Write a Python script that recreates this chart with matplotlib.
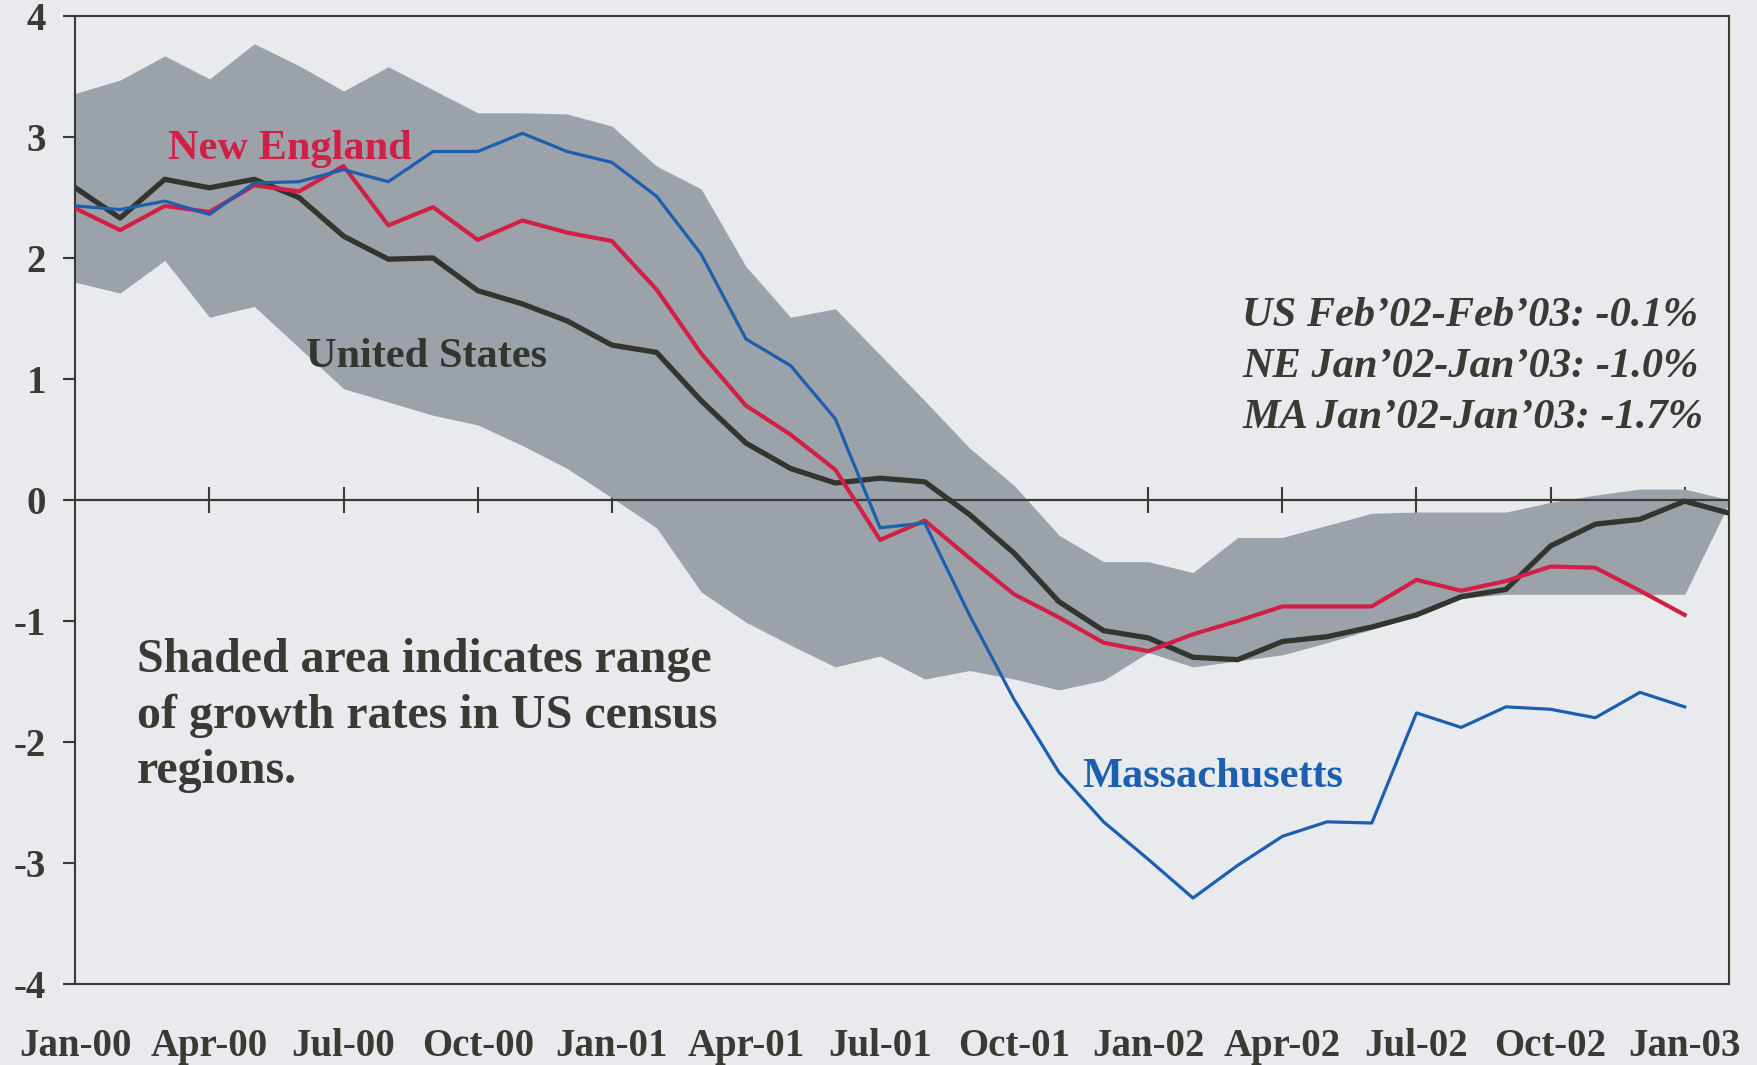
import matplotlib
matplotlib.use("Agg")
import matplotlib.pyplot as plt
import numpy as np

plt.rcParams['axes.unicode_minus'] = False

# monthly growth rates (%), Jan-00 .. Feb-03
months = np.arange(38)

us = [2.58, 2.33, 2.65, 2.58, 2.65, 2.50, 2.18, 1.99, 2.00, 1.73,
      1.62, 1.48, 1.28, 1.22, 0.82, 0.47, 0.26, 0.14, 0.18, 0.15,
      -0.12, -0.44, -0.84, -1.08, -1.14, -1.30, -1.32, -1.17, -1.13, -1.05,
      -0.95, -0.80, -0.74, -0.38, -0.20, -0.16, -0.01, -0.11]

# New England and Massachusetts stop at Jan-03
new_england = [2.41, 2.23, 2.43, 2.38, 2.60, 2.55, 2.76, 2.27, 2.42, 2.15,
               2.31, 2.21, 2.14, 1.74, 1.21, 0.78, 0.54, 0.25, -0.33, -0.17,
               -0.48, -0.78, -0.97, -1.18, -1.25, -1.11, -1.00, -0.88, -0.88, -0.88,
               -0.66, -0.75, -0.67, -0.55, -0.56, -0.75, -0.95]

mass = [2.43, 2.40, 2.47, 2.36, 2.62, 2.63, 2.73, 2.63, 2.88, 2.88,
        3.03, 2.88, 2.79, 2.51, 2.03, 1.33, 1.11, 0.67, -0.23, -0.19,
        -0.95, -1.65, -2.25, -2.66, -2.97, -3.29, -3.02, -2.78, -2.66, -2.67,
        -1.76, -1.88, -1.71, -1.73, -1.80, -1.59, -1.71]

# range of census regions (shaded band)
band_hi = [3.36, 3.47, 3.67, 3.48, 3.77, 3.59, 3.38, 3.58, 3.39, 3.20,
           3.20, 3.19, 3.09, 2.76, 2.57, 1.93, 1.51, 1.58, 1.20, 0.82,
           0.43, 0.12, -0.29, -0.51, -0.51, -0.60, -0.31, -0.31, -0.21, -0.11,
           -0.10, -0.10, -0.10, -0.02, 0.04, 0.09, 0.09, 0.00]
band_lo = [1.80, 1.71, 1.98, 1.51, 1.60, 1.26, 0.92, 0.81, 0.70, 0.62,
           0.45, 0.26, 0.02, -0.23, -0.76, -1.01, -1.20, -1.38, -1.29, -1.48,
           -1.41, -1.48, -1.57, -1.49, -1.26, -1.38, -1.33, -1.28, -1.18, -1.07,
           -0.96, -0.81, -0.78, -0.78, -0.78, -0.78, -0.78, -0.02]

tick_pos = [0, 3, 6, 9, 12, 15, 18, 21, 24, 27, 30, 33, 36]
tick_lab = ['Jan-00', 'Apr-00', 'Jul-00', 'Oct-00', 'Jan-01', 'Apr-01', 'Jul-01',
            'Oct-01', 'Jan-02', 'Apr-02', 'Jul-02', 'Oct-02', 'Jan-03']
y_ticks = [-4, -3, -2, -1, 0, 1, 2, 3, 4]

bg = '#e8eaee'
ink = '#3a3a35'
serif = 'Liberation Serif'

fig = plt.figure(figsize=(17.57, 10.65), dpi=100, facecolor=bg)
ax = fig.add_axes([0.0429, 0.0761, 0.9414, 0.9089], facecolor=bg)

ax.fill_between(months, band_lo, band_hi, color='#9ca2aa', lw=0, zorder=1)
ax.axhline(0, color=ink, lw=1.6, zorder=1.5)
ax.plot(months, us, color='#33352f', lw=3.8, zorder=3)
ax.plot(months[:len(new_england)], new_england, color='#d21f45', lw=3.0, zorder=4)
ax.plot(months[:len(mass)], mass, color='#1c5fae', lw=2.3, zorder=5)

ax.set_xlim(0, 37)
ax.set_ylim(-4, 4)
ax.set_xticks(tick_pos)
ax.set_xticklabels(tick_lab)
ax.set_yticks(y_ticks)
ax.tick_params(axis='x', length=0, pad=32, labelsize=28, labelcolor=ink)
ax.tick_params(axis='y', direction='out', length=9, width=1.5, pad=12,
               labelsize=28, labelcolor=ink, color=ink)
for lab in ax.get_xticklabels() + ax.get_yticklabels():
    lab.set_fontfamily(serif)
    lab.set_fontweight('bold')
for sp in ax.spines.values():
    sp.set_color(ink)
    sp.set_linewidth(1.5)

# tick marks crossing the zero line
sec = ax.secondary_xaxis(0.5)
sec.set_xticks(tick_pos[1:])
sec.set_xticklabels([])
sec.tick_params(direction='inout', length=19, width=1.5, color=ink,
                labelbottom=False, labeltop=False)
for sp in sec.spines.values():
    sp.set_visible(False)

ax.text(2.07, 2.90, 'New England', color='#d21f45', fontsize=30.5,
        family=serif, weight='bold', va='center', ha='left')
ax.text(5.15, 1.18, 'United States', color='#33352f', fontsize=30.5,
        family=serif, weight='bold', va='center', ha='left')
ax.text(22.53, -2.29, 'Massachusetts', color='#1c5fae', fontsize=30.5,
        family=serif, weight='bold', va='center', ha='left')
ax.text(1.37, -1.78, 'Shaded area indicates range\nof growth rates in US census\nregions.',
        color=ink, fontsize=34.5, family=serif, weight='bold', va='center', ha='left',
        linespacing=1.34)
ax.text(26.1, 1.10, 'US Feb\u201902-Feb\u201903: -0.1%\nNE Jan\u201902-Jan\u201903: -1.0%\nMA Jan\u201902-Jan\u201903: -1.7%',
        color=ink, fontsize=30.5, family=serif, weight='bold', style='italic',
        va='center', ha='left', linespacing=1.45)

fig.savefig('out.png', dpi=100, facecolor=bg)
